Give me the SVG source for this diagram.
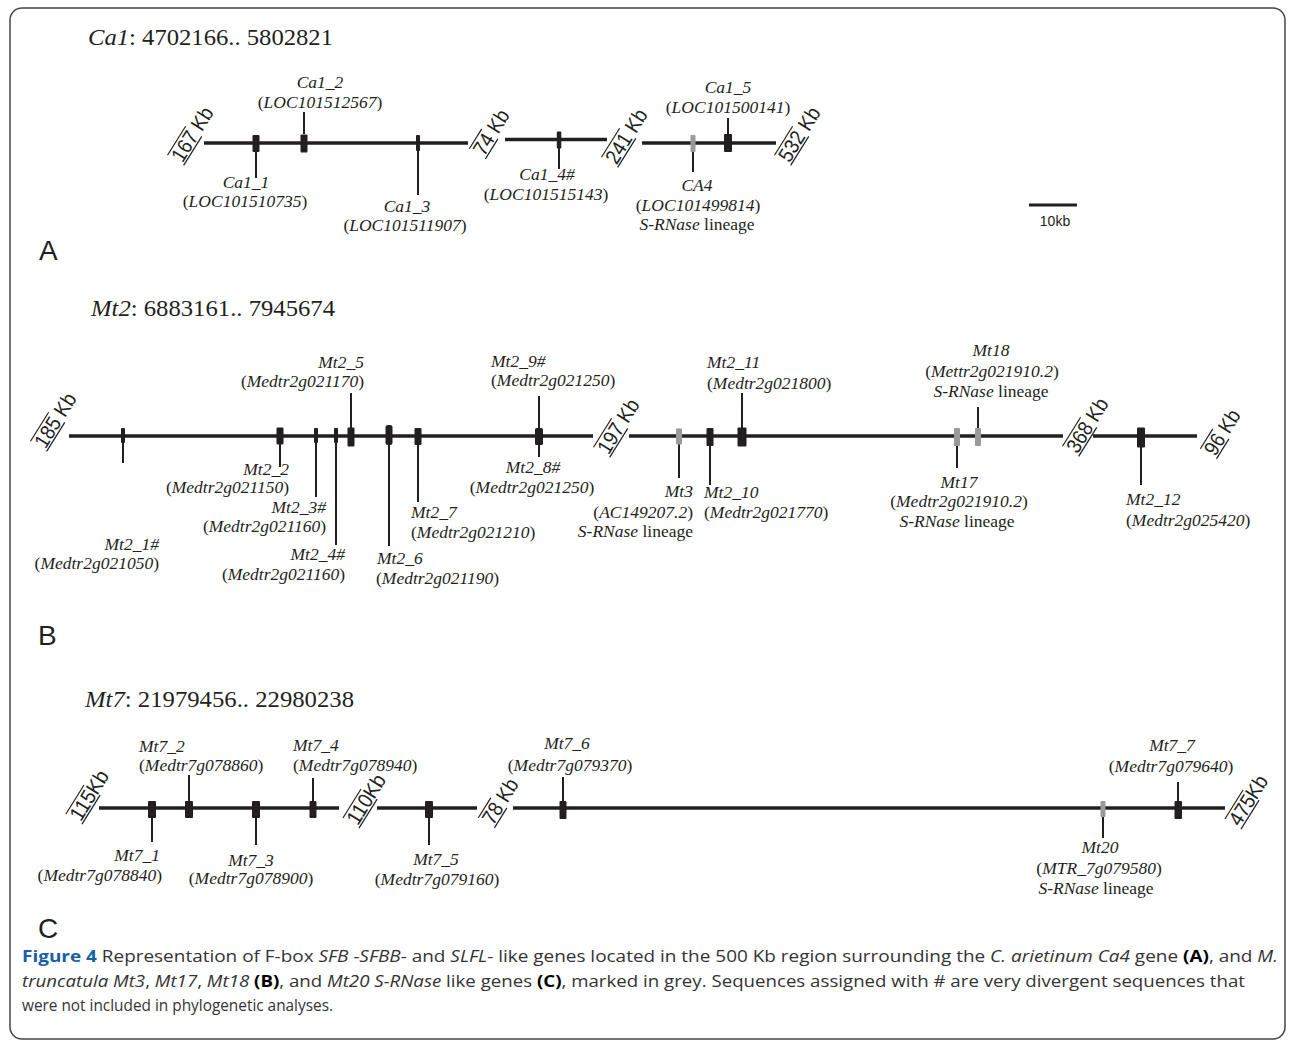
<svg xmlns="http://www.w3.org/2000/svg" width="1292" height="1043" viewBox="0 0 1292 1043">
<style>
.chr{stroke:#231f20;stroke-width:3.5;fill:none}
.stem{stroke:#231f20;stroke-width:2}
.gb{fill:#231f20}
.gg{fill:#9a9a9a}
.l{font-family:"Liberation Serif","Times New Roman",serif;font-size:17.5px;fill:#231f20}
.i{font-style:italic}
.m{text-anchor:middle}
.e{text-anchor:end}
.t{font-family:"Liberation Serif","Times New Roman",serif;font-size:24px;fill:#231f20}
.kb text{font-family:"Liberation Sans",Arial,sans-serif;font-size:21px;fill:#231f20}
.kb line{stroke:#231f20;stroke-width:1.2}
.p{font-family:"Liberation Sans",Arial,sans-serif;font-size:28px;fill:#231f20}
.cap{font-family:"Open Sans",sans-serif;font-size:16.5px;fill:#333}
.b{font-weight:bold;fill:#000}
.fig{font-weight:bold;fill:#1a5ea8}
</style>
<rect x="10" y="8" width="1275" height="1031" rx="12" fill="#fff" stroke="#444" stroke-width="1.5"/>

<!-- Panel A -->
<text class="t" x="88" y="45" textLength="245" lengthAdjust="spacingAndGlyphs"><tspan class="i">Ca1</tspan>: 4702166.. 5802821</text>
<g id="chromosomes">
<line class="chr" x1="204" y1="143" x2="468" y2="143"/>
<line class="chr" x1="505" y1="139.5" x2="607" y2="139.5"/>
<line class="chr" x1="642" y1="143" x2="776" y2="143"/>
<line class="chr" x1="69" y1="436" x2="593" y2="436"/>
<line class="chr" x1="629" y1="436" x2="1063" y2="436"/>
<line class="chr" x1="1093" y1="436" x2="1197" y2="436"/>
<line class="chr" x1="99" y1="808" x2="339" y2="808"/>
<line class="chr" x1="377" y1="808" x2="477" y2="808"/>
<line class="chr" x1="513" y1="808" x2="1225" y2="808"/>
</g>

<g id="connectors">
<line class="stem" x1="256" y1="152" x2="256" y2="178"/>
<line class="stem" x1="304" y1="134" x2="304" y2="112"/>
<line class="stem" x1="418" y1="151" x2="418" y2="195"/>
<line class="stem" x1="559" y1="148" x2="559" y2="169"/>
<line class="stem" x1="693" y1="152" x2="693" y2="172"/>
<line class="stem" x1="728" y1="134" x2="728" y2="118"/>
<line class="stem" x1="123" y1="443" x2="123" y2="463"/>
<line class="stem" x1="280" y1="444" x2="280" y2="467"/>
<line class="stem" x1="316" y1="443" x2="316" y2="497"/>
<line class="stem" x1="336" y1="443" x2="336" y2="545"/>
<line class="stem" x1="351" y1="428" x2="351" y2="393"/>
<line class="stem" x1="389" y1="445" x2="389" y2="546"/>
<line class="stem" x1="418" y1="445" x2="418" y2="502"/>
<line class="stem" x1="539" y1="428" x2="539" y2="396"/>
<line class="stem" x1="539" y1="445" x2="539" y2="457"/>
<line class="stem" x1="679" y1="444" x2="679" y2="478"/>
<line class="stem" x1="710" y1="446" x2="710" y2="485"/>
<line class="stem" x1="742" y1="428" x2="742" y2="393"/>
<line class="stem" x1="957" y1="446" x2="957" y2="468"/>
<line class="stem" x1="978" y1="428" x2="978" y2="407"/>
<line class="stem" x1="1141" y1="447" x2="1141" y2="485"/>
<line class="stem" x1="152" y1="818" x2="152" y2="842"/>
<line class="stem" x1="189" y1="801" x2="189" y2="775"/>
<line class="stem" x1="256" y1="818" x2="256" y2="845"/>
<line class="stem" x1="313" y1="801" x2="313" y2="778"/>
<line class="stem" x1="429" y1="818" x2="429" y2="845"/>
<line class="stem" x1="563" y1="801" x2="563" y2="777"/>
<line class="stem" x1="1103" y1="817" x2="1103" y2="838"/>
<line class="stem" x1="1178" y1="801" x2="1178" y2="782"/>
</g>

<!-- Kb break labels -->
<g class="kb" id="kb167" transform="translate(192,134) rotate(-58)"><line x1="-31" y1="-9.5" x2="3.2" y2="-9.5"/><line x1="-31" y1="9.5" x2="3.2" y2="9.5"/><text x="-30" y="7.5" textLength="60" lengthAdjust="spacingAndGlyphs">167 Kb</text></g>
<g class="kb" id="kb74" transform="translate(491,132) rotate(-58)"><line x1="-25.7" y1="-9.5" x2="-2.2" y2="-9.5"/><line x1="-25.7" y1="9.5" x2="-2.2" y2="9.5"/><text x="-24.7" y="7.5" textLength="49.3" lengthAdjust="spacingAndGlyphs">74 Kb</text></g>
<g class="kb" id="kb241" transform="translate(626,136) rotate(-58)"><line x1="-31" y1="-9.5" x2="3.2" y2="-9.5"/><line x1="-31" y1="9.5" x2="3.2" y2="9.5"/><text x="-30" y="7.5" textLength="60" lengthAdjust="spacingAndGlyphs">241 Kb</text></g>
<g class="kb" id="kb532" transform="translate(799,134) rotate(-58)"><line x1="-31" y1="-9.5" x2="3.2" y2="-9.5"/><line x1="-31" y1="9.5" x2="3.2" y2="9.5"/><text x="-30" y="7.5" textLength="60" lengthAdjust="spacingAndGlyphs">532 Kb</text></g>
<g class="kb" id="kb185" transform="translate(55,420) rotate(-58)"><line x1="-31" y1="-9.5" x2="3.2" y2="-9.5"/><line x1="-31" y1="9.5" x2="3.2" y2="9.5"/><text x="-30" y="7.5" textLength="60" lengthAdjust="spacingAndGlyphs">185 Kb</text></g>
<g class="kb" id="kb197" transform="translate(618,426) rotate(-58)"><line x1="-31" y1="-9.5" x2="3.2" y2="-9.5"/><line x1="-31" y1="9.5" x2="3.2" y2="9.5"/><text x="-30" y="7.5" textLength="60" lengthAdjust="spacingAndGlyphs">197 Kb</text></g>
<g class="kb" id="kb368" transform="translate(1087,425) rotate(-58)"><line x1="-31" y1="-9.5" x2="3.2" y2="-9.5"/><line x1="-31" y1="9.5" x2="3.2" y2="9.5"/><text x="-30" y="7.5" textLength="60" lengthAdjust="spacingAndGlyphs">368 Kb</text></g>
<g class="kb" id="kb96" transform="translate(1222,432) rotate(-58)"><line x1="-25.7" y1="-9.5" x2="-2.2" y2="-9.5"/><line x1="-25.7" y1="9.5" x2="-2.2" y2="9.5"/><text x="-24.7" y="7.5" textLength="49.3" lengthAdjust="spacingAndGlyphs">96 Kb</text></g>
<g class="kb" id="kb115" transform="translate(89,795) rotate(-58)"><line x1="-28.4" y1="-9.5" x2="5.8" y2="-9.5"/><line x1="-28.4" y1="9.5" x2="5.8" y2="9.5"/><text x="-27.4" y="7.5" textLength="54.7" lengthAdjust="spacingAndGlyphs">115Kb</text></g>
<g class="kb" id="kb110" transform="translate(366,799) rotate(-58)"><line x1="-28.4" y1="-9.5" x2="5.8" y2="-9.5"/><line x1="-28.4" y1="9.5" x2="5.8" y2="9.5"/><text x="-27.4" y="7.5" textLength="54.7" lengthAdjust="spacingAndGlyphs">110Kb</text></g>
<g class="kb" id="kb78" transform="translate(500,801) rotate(-58)"><line x1="-25.7" y1="-9.5" x2="-2.2" y2="-9.5"/><line x1="-25.7" y1="9.5" x2="-2.2" y2="9.5"/><text x="-24.7" y="7.5" textLength="49.3" lengthAdjust="spacingAndGlyphs">78 Kb</text></g>
<g class="kb" id="kb475" transform="translate(1248,800) rotate(-58)"><line x1="-28.4" y1="-9.5" x2="5.8" y2="-9.5"/><line x1="-28.4" y1="9.5" x2="5.8" y2="9.5"/><text x="-27.4" y="7.5" textLength="54.7" lengthAdjust="spacingAndGlyphs">475Kb</text></g>

<!-- Panel A genes -->
<g id="Ca1_1"><rect class="gb" x="252.5" y="135" width="7" height="17" rx="1"/>
<text class="l m i" x="246" y="188">Ca1_1</text><text class="l m" x="245" y="207">(<tspan class="i">LOC101510735</tspan>)</text></g>
<g id="Ca1_2"><rect class="gb" x="300.5" y="134.5" width="7" height="18" rx="1"/>
<text class="l m i" x="320" y="88">Ca1_2</text><text class="l m" x="320" y="108">(<tspan class="i">LOC101512567</tspan>)</text></g>
<g id="Ca1_3"><rect class="gb" x="416" y="135" width="4" height="16" rx="1"/>
<text class="l m i" x="407" y="212">Ca1_3</text><text class="l m" x="405" y="231">(<tspan class="i">LOC101511907</tspan>)</text></g>
<g id="Ca1_4"><rect class="gb" x="556.8" y="131.5" width="4.5" height="17" rx="1"/>
<text class="l m i" x="547" y="180">Ca1_4#</text><text class="l m" x="546" y="200">(<tspan class="i">LOC101515143</tspan>)</text></g>
<g id="CA4"><rect class="gg" x="690.5" y="135" width="5" height="17" rx="1"/>
<text class="l m i" x="697" y="191">CA4</text><text class="l m" x="698" y="211">(<tspan class="i">LOC101499814</tspan>)</text><text class="l m" x="697" y="230"><tspan class="i">S-RNase</tspan> lineage</text></g>
<g id="Ca1_5"><rect class="gb" x="724" y="134" width="8" height="18" rx="1"/>
<text class="l m i" x="728" y="93">Ca1_5</text><text class="l m" x="728" y="113">(<tspan class="i">LOC101500141</tspan>)</text></g>
<g id="scalebar"><line x1="1029" y1="205" x2="1077" y2="205" stroke="#231f20" stroke-width="3"/>
<text x="1055" y="226" text-anchor="middle" font-family="Liberation Sans, Arial, sans-serif" font-size="14" fill="#231f20">10kb</text></g>
<text class="p" x="39" y="260">A</text>

<!-- Panel B -->
<text class="t" x="91" y="316" textLength="244" lengthAdjust="spacingAndGlyphs"><tspan class="i">Mt2</tspan>: 6883161.. 7945674</text>
<g id="Mt2_1"><rect class="gb" x="121" y="428" width="4" height="15" rx="1"/>
<text class="l e i" x="159" y="550">Mt2_1#</text><text class="l e" x="159" y="569">(<tspan class="i">Medtr2g021050</tspan>)</text></g>
<g id="Mt2_2"><rect class="gb" x="276.5" y="427.5" width="7" height="17" rx="1"/>
<text class="l e i" x="289" y="475">Mt2_2</text><text class="l e" x="289" y="493">(<tspan class="i">Medtr2g021150</tspan>)</text></g>
<g id="Mt2_3"><rect class="gb" x="314" y="428" width="4" height="15" rx="1"/>
<text class="l e i" x="326" y="513">Mt2_3#</text><text class="l e" x="326" y="532">(<tspan class="i">Medtr2g021160</tspan>)</text></g>
<g id="Mt2_4"><rect class="gb" x="334" y="428" width="4" height="15" rx="1"/>
<text class="l e i" x="345" y="560">Mt2_4#</text><text class="l e" x="345" y="580">(<tspan class="i">Medtr2g021160</tspan>)</text></g>
<g id="Mt2_5"><rect class="gb" x="347.5" y="427.5" width="7" height="19" rx="1"/>
<text class="l e i" x="364" y="368">Mt2_5</text><text class="l e" x="364" y="387">(<tspan class="i">Medtr2g021170</tspan>)</text></g>
<g id="Mt2_6"><rect class="gb" x="385.5" y="425" width="7" height="20" rx="2.5"/>
<text class="l i" x="377" y="564">Mt2_6</text><text class="l" x="376" y="584">(<tspan class="i">Medtr2g021190</tspan>)</text></g>
<g id="Mt2_7"><rect class="gb" x="414.5" y="428" width="7" height="17" rx="1"/>
<text class="l i" x="411" y="518">Mt2_7</text><text class="l" x="411" y="538">(<tspan class="i">Medtr2g021210</tspan>)</text></g>
<g id="Mt2_8_9"><rect class="gb" x="535" y="428" width="8" height="17" rx="1.5"/>
<text class="l i" x="491" y="367">Mt2_9#</text><text class="l" x="491" y="386">(<tspan class="i">Medtr2g021250</tspan>)</text>
<text class="l m i" x="533" y="473">Mt2_8#</text><text class="l m" x="532" y="493">(<tspan class="i">Medtr2g021250</tspan>)</text></g>
<g id="Mt3"><rect class="gg" x="676" y="428.5" width="6" height="16" rx="1"/>
<text class="l e i" x="693" y="497">Mt3</text><text class="l e" x="693" y="518">(<tspan class="i">AC149207.2</tspan>)</text><text class="l e" x="693" y="537"><tspan class="i">S-RNase</tspan> lineage</text></g>
<g id="Mt2_10"><rect class="gb" x="706.5" y="428" width="7" height="18" rx="1"/>
<text class="l i" x="704" y="498">Mt2_10</text><text class="l" x="704" y="518">(<tspan class="i">Medtr2g021770</tspan>)</text></g>
<g id="Mt2_11"><rect class="gb" x="737.5" y="427.5" width="9" height="19" rx="1"/>
<text class="l i" x="707" y="368">Mt2_11</text><text class="l" x="707" y="389">(<tspan class="i">Medtr2g021800</tspan>)</text></g>
<g id="Mt17"><rect class="gg" x="954" y="428" width="6" height="18" rx="1"/>
<text class="l m i" x="959" y="488">Mt17</text><text class="l m" x="959" y="507">(<tspan class="i">Medtr2g021910.2</tspan>)</text><text class="l m" x="957" y="527"><tspan class="i">S-RNase</tspan> lineage</text></g>
<g id="Mt18"><rect class="gg" x="975" y="428" width="6" height="18" rx="1"/>
<text class="l m i" x="991" y="356">Mt18</text><text class="l m" x="992" y="377">(<tspan class="i">Mettr2g021910.2</tspan>)</text><text class="l m" x="991" y="397"><tspan class="i">S-RNase</tspan> lineage</text></g>
<g id="Mt2_12"><rect class="gb" x="1137" y="427.5" width="8" height="20" rx="1"/>
<text class="l i" x="1126" y="505">Mt2_12</text><text class="l" x="1126" y="526">(<tspan class="i">Medtr2g025420</tspan>)</text></g>
<text class="p" x="38" y="645">B</text>

<!-- Panel C -->
<text class="t" x="85" y="707" textLength="269" lengthAdjust="spacingAndGlyphs"><tspan class="i">Mt7</tspan>: 21979456.. 22980238</text>
<g id="Mt7_1"><rect class="gb" x="148" y="801" width="8" height="17" rx="1"/>
<text class="l e i" x="160" y="861">Mt7_1</text><text class="l e" x="162" y="881">(<tspan class="i">Medtr7g078840</tspan>)</text></g>
<g id="Mt7_2"><rect class="gb" x="185" y="801" width="8" height="17" rx="1"/>
<text class="l i" x="139" y="752">Mt7_2</text><text class="l" x="139" y="771">(<tspan class="i">Medtr7g078860</tspan>)</text></g>
<g id="Mt7_3"><rect class="gb" x="252" y="801" width="8" height="17" rx="1"/>
<text class="l m i" x="251" y="866">Mt7_3</text><text class="l m" x="251" y="884">(<tspan class="i">Medtr7g078900</tspan>)</text></g>
<g id="Mt7_4"><rect class="gb" x="309.5" y="801" width="7" height="17" rx="1"/>
<text class="l i" x="293" y="751">Mt7_4</text><text class="l" x="293" y="771">(<tspan class="i">Medtr7g078940</tspan>)</text></g>
<g id="Mt7_5"><rect class="gb" x="425" y="801" width="8" height="17" rx="1"/>
<text class="l m i" x="436" y="865">Mt7_5</text><text class="l m" x="437" y="885">(<tspan class="i">Medtr7g079160</tspan>)</text></g>
<g id="Mt7_6"><rect class="gb" x="559.5" y="801" width="7" height="18" rx="1"/>
<text class="l m i" x="567" y="749">Mt7_6</text><text class="l m" x="570" y="771">(<tspan class="i">Medtr7g079370</tspan>)</text></g>
<g id="Mt20"><rect class="gg" x="1100.5" y="801" width="5" height="16" rx="1"/>
<text class="l m i" x="1100" y="853">Mt20</text><text class="l m" x="1099" y="874">(<tspan class="i">MTR_7g079580</tspan>)</text><text class="l m" x="1096" y="894"><tspan class="i">S-RNase</tspan> lineage</text></g>
<g id="Mt7_7"><rect class="gb" x="1174.5" y="801" width="7.5" height="18" rx="1"/>
<text class="l m i" x="1172" y="751">Mt7_7</text><text class="l m" x="1171" y="772">(<tspan class="i">Medtr7g079640</tspan>)</text></g>
<text class="p" x="38" y="938">C</text>

<!-- Caption -->
<g id="caption">
<text class="cap" x="22" y="962" textLength="1256" lengthAdjust="spacingAndGlyphs"><tspan class="fig">Figure 4</tspan> Representation of F-box <tspan class="i">SFB -SFBB</tspan>- and <tspan class="i">SLFL</tspan>- like genes located in the 500 Kb region surrounding the <tspan class="i">C. arietinum Ca4</tspan> gene <tspan class="b">(A)</tspan>, and <tspan class="i">M.</tspan></text>
<text class="cap" x="22" y="987" textLength="1223" lengthAdjust="spacingAndGlyphs"><tspan class="i">truncatula Mt3</tspan>, <tspan class="i">Mt17</tspan>, <tspan class="i">Mt18</tspan> <tspan class="b">(B)</tspan>, and <tspan class="i">Mt20 S-RNase</tspan> like genes <tspan class="b">(C)</tspan>, marked in grey. Sequences assigned with # are very divergent sequences that</text>
<text class="cap" x="22" y="1011" textLength="311" lengthAdjust="spacingAndGlyphs">were not included in phylogenetic analyses.</text>
</g>
</svg>
